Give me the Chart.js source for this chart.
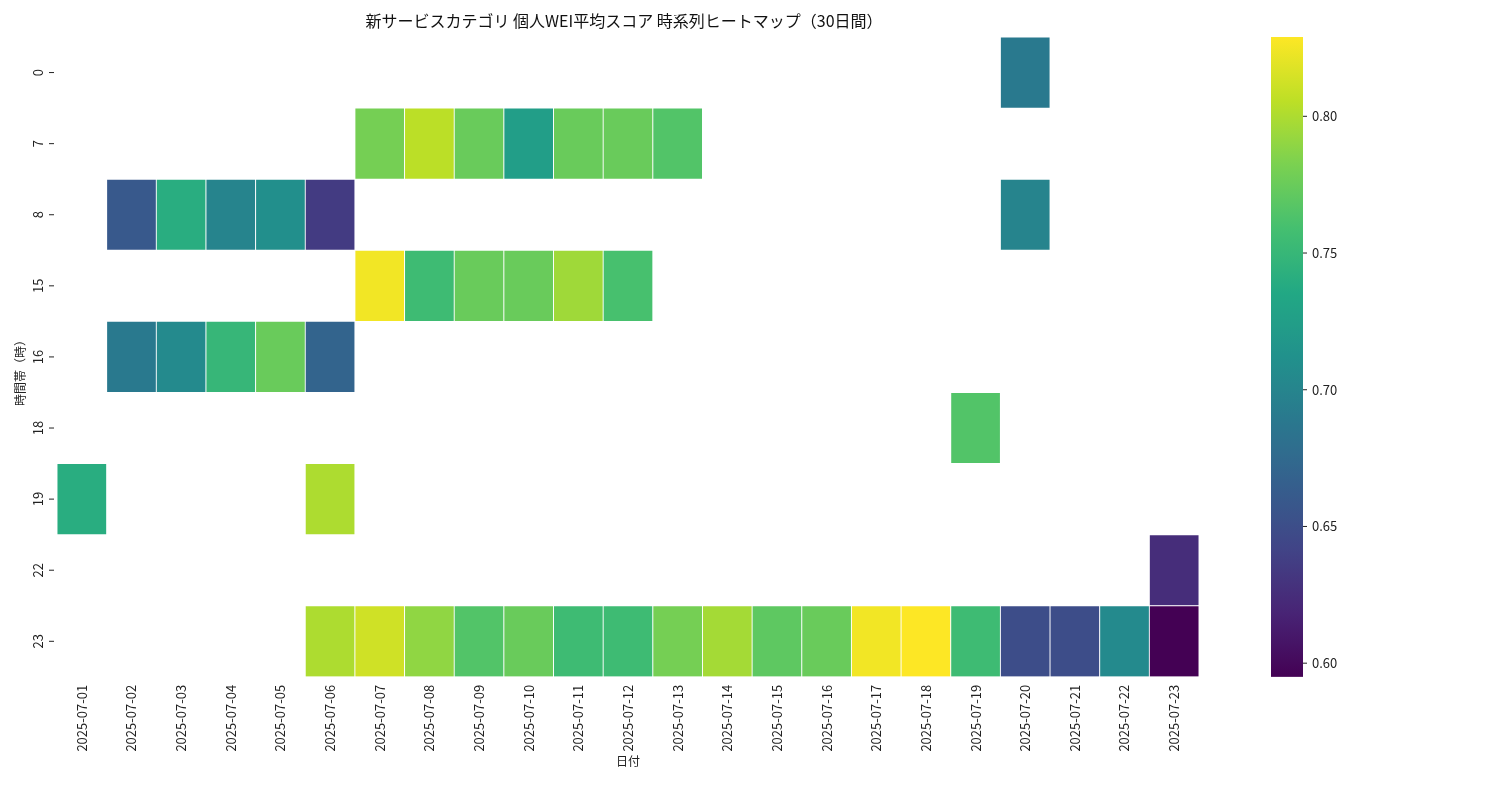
<!DOCTYPE html>
<html>
<head>
<meta charset="utf-8">
<script src="https://cdn.jsdelivr.net/npm/chart.js@4"></script>
<style>
  body { margin: 0; background: #fff; }
</style>
</head>
<body>
<canvas id="c" width="1500" height="800"></canvas>
<script>
// --- data -------------------------------------------------------------------
const dates = ['2025-07-01','2025-07-02','2025-07-03','2025-07-04','2025-07-05','2025-07-06',
  '2025-07-07','2025-07-08','2025-07-09','2025-07-10','2025-07-11','2025-07-12','2025-07-13',
  '2025-07-14','2025-07-15','2025-07-16','2025-07-17','2025-07-18','2025-07-19','2025-07-20',
  '2025-07-21','2025-07-22','2025-07-23'];
const hours = ['0', '7', '8', '15', '16', '18', '19', '22', '23'];

// [date, hour, score]
const cells = [
  ['2025-07-20', '0', 0.690],
  ['2025-07-07', '7', 0.780], ['2025-07-08', '7', 0.805], ['2025-07-09', '7', 0.775],
  ['2025-07-10', '7', 0.725], ['2025-07-11', '7', 0.775], ['2025-07-12', '7', 0.775],
  ['2025-07-13', '7', 0.765],
  ['2025-07-02', '8', 0.660], ['2025-07-03', '8', 0.740], ['2025-07-04', '8', 0.700],
  ['2025-07-05', '8', 0.710], ['2025-07-06', '8', 0.635], ['2025-07-20', '8', 0.700],
  ['2025-07-07', '15', 0.825], ['2025-07-08', '15', 0.755], ['2025-07-09', '15', 0.775],
  ['2025-07-10', '15', 0.775], ['2025-07-11', '15', 0.795], ['2025-07-12', '15', 0.760],
  ['2025-07-02', '16', 0.690], ['2025-07-03', '16', 0.705], ['2025-07-04', '16', 0.750],
  ['2025-07-05', '16', 0.775], ['2025-07-06', '16', 0.670],
  ['2025-07-19', '18', 0.765],
  ['2025-07-01', '19', 0.740], ['2025-07-06', '19', 0.800],
  ['2025-07-23', '22', 0.625],
  ['2025-07-06', '23', 0.800], ['2025-07-07', '23', 0.812], ['2025-07-08', '23', 0.790],
  ['2025-07-09', '23', 0.765], ['2025-07-10', '23', 0.775], ['2025-07-11', '23', 0.755],
  ['2025-07-12', '23', 0.755], ['2025-07-13', '23', 0.780], ['2025-07-14', '23', 0.797],
  ['2025-07-15', '23', 0.770], ['2025-07-16', '23', 0.775], ['2025-07-17', '23', 0.825],
  ['2025-07-18', '23', 0.829], ['2025-07-19', '23', 0.755], ['2025-07-20', '23', 0.650],
  ['2025-07-21', '23', 0.650], ['2025-07-22', '23', 0.705], ['2025-07-23', '23', 0.595]
];
const vmin = 0.595, vmax = 0.829;
const cbarTicks = [0.60, 0.65, 0.70, 0.75, 0.80];

// --- viridis ----------------------------------------------------------------
const VIRIDIS = ['#440154','#482475','#414487','#355f8d','#2a788e','#21918c',
                 '#22a884','#44bf70','#7ad151','#bddf26','#fde725'];
function hex(h) { return [1, 3, 5].map(i => parseInt(h.slice(i, i + 2), 16)); }
function viridis(t) {
  t = Math.max(0, Math.min(1, t));
  const p = t * (VIRIDIS.length - 1), i = Math.min(Math.floor(p), VIRIDIS.length - 2), f = p - i;
  const a = hex(VIRIDIS[i]), b = hex(VIRIDIS[i + 1]);
  return 'rgb(' + a.map((v, k) => Math.round(v + (b[k] - v) * f)).join(',') + ')';
}
const norm = v => (v - vmin) / (vmax - vmin);

const FONT = '"Noto Sans CJK JP", "Noto Sans", sans-serif';

// y labels (rotated), y title, colorbar
const extras = {
  id: 'extras',
  afterDraw(chart) {
    const ctx = chart.ctx, y = chart.scales.y, area = chart.chartArea;
    ctx.save();
    ctx.fillStyle = '#222'; ctx.strokeStyle = '#222'; ctx.lineWidth = 1;
    ctx.font = '13px ' + FONT;
    hours.forEach((h, i) => {
      const py = y.getPixelForValue(i);
      ctx.beginPath(); ctx.moveTo(area.left - 8, py); ctx.lineTo(area.left - 3, py); ctx.stroke();
      ctx.save(); ctx.translate(area.left - 19, py); ctx.rotate(-Math.PI / 2);
      ctx.textAlign = 'center'; ctx.textBaseline = 'middle'; ctx.fillText(h, 0, 0);
      ctx.restore();
    });
    ctx.save(); ctx.translate(20, 370); ctx.rotate(-Math.PI / 2);
    ctx.font = '12px ' + FONT; ctx.textAlign = 'center'; ctx.textBaseline = 'middle';
    ctx.fillText('時間帯（時）', 0, 0); ctx.restore();

    // colorbar
    const cx = 1271, cw = 32, top = area.top, bot = area.bottom;
    const g = ctx.createLinearGradient(0, bot, 0, top);
    for (let k = 0; k <= 20; k++) g.addColorStop(k / 20, viridis(k / 20));
    ctx.fillStyle = g; ctx.fillRect(cx, top, cw, bot - top);
    ctx.fillStyle = '#222'; ctx.font = '13px ' + FONT; ctx.textBaseline = 'middle';
    cbarTicks.forEach(v => {
      const py = bot - norm(v) * (bot - top);
      ctx.beginPath(); ctx.moveTo(cx + cw, py); ctx.lineTo(cx + cw + 4, py); ctx.stroke();
      ctx.fillText(v.toFixed(2), cx + cw + 9, py);
    });
    ctx.restore();
  }
};

new Chart(document.getElementById('c'), {
  type: 'bar',
  data: {
    labels: dates,
    datasets: [{
      data: cells.map(c => ({ x: c[0], y: [hours.indexOf(c[1]) - 0.5, hours.indexOf(c[1]) + 0.5] })),
      backgroundColor: cells.map(c => viridis(norm(c[2]))),
      borderColor: '#fff',
      borderWidth: 0.8,
      borderSkipped: false,
      barPercentage: 1,
      categoryPercentage: 1,
      grouped: false
    }]
  },
  options: {
    responsive: false,
    animation: false,
    layout: { padding: { left: 57, right: 301, top: 37, bottom: 31 } },
    plugins: {
      legend: { display: false },
      tooltip: { enabled: false },
      title: { display: false }
    },
    scales: {
      x: {
        grid: { display: false, drawTicks: true, tickLength: 5, tickColor: '#222' },
        border: { display: false },
        ticks: { color: '#222', font: { family: FONT, size: 13 }, minRotation: 90, maxRotation: 90 },
        title: { display: true, text: '日付', color: '#222', font: { family: FONT, size: 12 }, padding: 0 }
      },
      y: {
        display: false,
        reverse: true,
        min: -0.5,
        max: hours.length - 0.5
      }
    }
  },
  plugins: [extras, {
    id: 'ttl',
    afterDraw(chart) {
      const ctx = chart.ctx;
      ctx.save(); ctx.fillStyle = '#111'; ctx.font = '16px ' + FONT;
      ctx.textAlign = 'center'; ctx.textBaseline = 'middle';
      ctx.fillText('新サービスカテゴリ 個人WEI平均スコア 時系列ヒートマップ（30日間）', 624, 21);
      ctx.restore();
    }
  }]
});
</script>
</body>
</html>
